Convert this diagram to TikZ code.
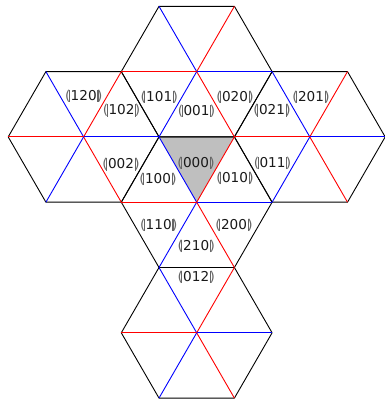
\documentclass[tikz,border=0pt]{standalone}
\usepackage{fontspec}
\setmainfont{DejaVu Sans}
\usetikzlibrary{calc}
\newcommand\bbopen{{\color{black!60}(\kern-0.11em\rule[-0.13em]{0.075em}{0.9em}\kern0.06em}}
\newcommand\bbclose{{\color{black!60}\kern0.06em\rule[-0.13em]{0.075em}{0.9em}\kern-0.11em)}}
\newcommand\bb[1]{\bbopen#1\bbclose}
\begin{document}
\begin{tikzpicture}[x=1pt,y=1pt,line width=0.9pt,
  hexedge/.style={black,line join=round},
  rspoke/.style={red},
  bspoke/.style={blue},
  lab/.style={font=\fontsize{13.6}{16}\selectfont,inner sep=0pt,text=black!90}]
\useasboundingbox (0,0) rectangle (385,400);
\def\hs{75.4}
% hexagon centres
\coordinate (H01) at (196.7,328.4);
\coordinate (Hm32) at (83.6,263.1);
\coordinate (H32) at (309.8,263.1);
\coordinate (H03) at (196.7,197.8);
\coordinate (H05) at (196.7,67.2);
% shaded triangle
\coordinate (T1) at ($(H03)+(120:\hs)$);
\coordinate (T2) at ($(H03)+(60:\hs)$);
\fill[gray!50] (T1) -- (T2) -- (H03) -- cycle;
% outlines
\foreach \h in {H01,Hm32,H32,H03,H05}{
  \draw[hexedge,shift={(\h)}] (0:\hs) -- (60:\hs) -- (120:\hs) -- (180:\hs) -- (240:\hs) -- (300:\hs) -- cycle;
}
% spokes
\foreach \h in {H01,Hm32,H32,H03,H05}{
  \draw[bspoke] (\h) -- ++(120:\hs);
  \draw[rspoke] (\h) -- ++(60:\hs);
  \draw[bspoke] (\h) -- ++(0:\hs);
  \draw[rspoke] (\h) -- ++(-60:\hs);
  \draw[bspoke] (\h) -- ++(-120:\hs);
  \draw[rspoke] (\h) -- ++(180:\hs);
}
% labels
\node[lab] (l120) at (83.7,304.2) {\bb{120}};
\node[lab] (l102) at (121.5,289.5) {\bb{102}};
\node[lab] (l101) at (159.2,303.3) {\bb{101}};
\node[lab] (l001) at (196.5,289.2) {\bb{001}};
\node[lab] (l020) at (235,303.3) {\bb{020}};
\node[lab] (l021) at (272,289.5) {\bb{021}};
\node[lab] (l201) at (311,303.3) {\bb{201}};
\node[lab] (l002) at (121,235.5) {\bb{002}};
\node[lab] (l000) at (196,237) {\bb{000}};
\node[lab] (l011) at (272.5,236.7) {\bb{011}};
\node[lab] (l100) at (158,221) {\bb{100}};
\node[lab] (l010) at (235,221.7) {\bb{010}};
\node[lab] (l110) at (158.7,175) {\bb{110}};
\node[lab] (l200) at (234,175) {\bb{200}};
\node[lab] (l210) at (196.2,153.7) {\bb{210}};
\node[lab] (l012) at (196.2,123) {\bb{012}};
\end{tikzpicture}
\end{document}
